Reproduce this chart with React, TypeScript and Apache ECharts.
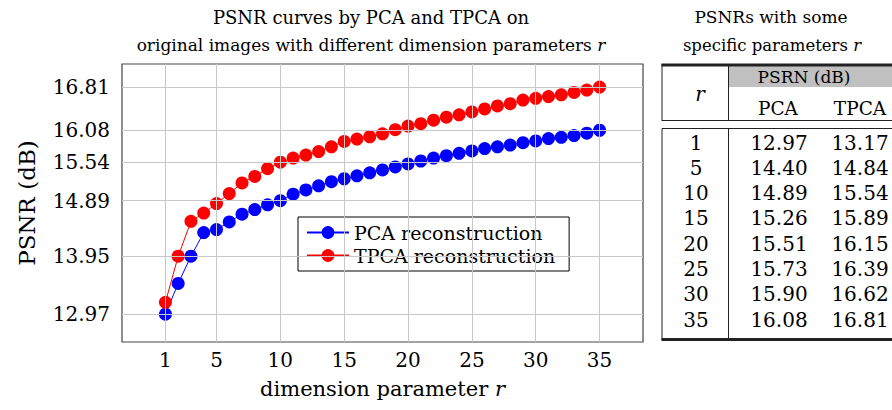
import React, { useEffect, useRef } from "react";
import * as echarts from "echarts";

const FONT = "DejaVu Serif";
const GREEN = "#2ee82e";

const rValues = [1, 2, 3, 4, 5, 6, 7, 8, 9, 10, 11, 12, 13, 14, 15, 16, 17, 18, 19, 20, 21, 22, 23, 24, 25, 26, 27, 28, 29, 30, 31, 32, 33, 34, 35];
const pcaValues = [12.97, 13.49, 13.95, 14.35, 14.40, 14.53, 14.66, 14.74, 14.82, 14.89, 15.00, 15.07, 15.14, 15.21, 15.26, 15.31, 15.36, 15.41, 15.46, 15.51, 15.56, 15.61, 15.65, 15.69, 15.73, 15.77, 15.80, 15.83, 15.87, 15.90, 15.94, 15.96, 15.99, 16.03, 16.08];
const tpcaValues = [13.17, 13.95, 14.54, 14.68, 14.84, 15.01, 15.19, 15.30, 15.43, 15.54, 15.61, 15.66, 15.72, 15.80, 15.89, 15.93, 15.97, 16.02, 16.09, 16.15, 16.19, 16.25, 16.30, 16.34, 16.39, 16.44, 16.49, 16.53, 16.59, 16.62, 16.65, 16.68, 16.72, 16.76, 16.81];
const xTicks = [1, 5, 10, 15, 20, 25, 30, 35];
const yTicks = [12.97, 13.95, 14.89, 15.54, 16.08, 16.81];
const tableR = [1, 5, 10, 15, 20, 25, 30, 35];

const X_MIN = -2.4;
const X_MAX = 38.4;
const Y_MIN = 12.5;
const Y_MAX = 17.2;

export default function App() {
  const ref = useRef<HTMLDivElement>(null);

  useEffect(() => {
    if (!ref.current) return;
    const chart = echarts.init(ref.current, null, { renderer: "svg" });

    const gridLines: any[] = [];
    xTicks.forEach((x) => gridLines.push([{ coord: [x, Y_MIN] }, { coord: [x, Y_MAX] }]));
    yTicks.forEach((y) => gridLines.push([{ coord: [X_MIN, y] }, { coord: [X_MAX, y] }]));

    const txt = (text: string, x: number, y: number, size: number, extra: any = {}) => ({
      type: "text",
      x,
      y,
      silent: true,
      style: {
        text,
        fontFamily: FONT,
        fontSize: size,
        fill: "#000",
        textAlign: "center",
        textVerticalAlign: "middle",
        ...extra,
      },
    });
    const rich = (size: number) => ({
      n: { fontFamily: FONT, fontSize: size, fill: "#000", color: "#000" },
      i: { fontFamily: FONT, fontSize: size, fontStyle: "italic", fill: "#000", color: "#000" },
    });

    const rowY0 = 142.5;
    const rowStep = 25.3;
    const tableTexts: any[] = [];
    tableR.forEach((r, k) => {
      const y = rowY0 + k * rowStep;
      tableTexts.push(txt(String(r), 696, y, 20));
      tableTexts.push(txt(pcaValues[rValues.indexOf(r)].toFixed(2), 779, y, 20));
      tableTexts.push(txt(tpcaValues[rValues.indexOf(r)].toFixed(2), 860, y, 20));
    });

    const hline = (x1: number, x2: number, y: number, w = 1) => ({
      type: "line",
      silent: true,
      shape: { x1, y1: y, x2, y2: y },
      style: { stroke: "#222", lineWidth: w },
    });
    const vline = (x: number, y1: number, y2: number, w = 1) => ({
      type: "line",
      silent: true,
      shape: { x1: x, y1, x2: x, y2 },
      style: { stroke: "#222", lineWidth: w },
    });

    const axisText = { fontFamily: FONT, fontSize: 20, color: "#000" };

    const option: any = {
      animation: false,
      textStyle: { fontFamily: FONT },
      grid: { left: 122, right: 249, top: 64, bottom: 68, show: true, borderColor: "#444", borderWidth: 1.2 },
      xAxis: [
        {
          type: "value",
          min: X_MIN,
          max: X_MAX,
          position: "bottom",
          axisLine: { show: false },
          splitLine: { show: false },
          axisTick: { show: true, inside: true, length: 10, lineStyle: { color: GREEN, width: 1 }, customValues: xTicks },
          axisLabel: { ...axisText, customValues: xTicks, margin: 8 },
          name: "{n|dimension parameter }{i|r}",
          nameLocation: "middle",
          nameGap: 36,
          nameTextStyle: { fontFamily: FONT, fontSize: 21, color: "#000", rich: rich(21) },
        },
        {
          type: "value",
          min: X_MIN,
          max: X_MAX,
          position: "top",
          axisLine: { show: false },
          splitLine: { show: false },
          axisTick: { show: true, inside: true, length: 10, lineStyle: { color: GREEN, width: 1 }, customValues: xTicks },
          axisLabel: { show: false, customValues: xTicks },
        },
      ],
      yAxis: [
        {
          type: "value",
          min: Y_MIN,
          max: Y_MAX,
          position: "left",
          axisLine: { show: false },
          splitLine: { show: false },
          axisTick: { show: true, inside: true, length: 10, lineStyle: { color: GREEN, width: 1 }, customValues: yTicks },
          axisLabel: { ...axisText, customValues: yTicks, margin: 12, formatter: (v: number) => v.toFixed(2) },
          name: "PSNR (dB)",
          nameLocation: "middle",
          nameGap: 84,
          nameRotate: 90,
          nameTextStyle: { fontFamily: FONT, fontSize: 23, color: "#000" },
        },
        {
          type: "value",
          min: Y_MIN,
          max: Y_MAX,
          position: "right",
          axisLine: { show: false },
          splitLine: { show: false },
          axisTick: { show: true, inside: true, length: 10, lineStyle: { color: GREEN, width: 1 }, customValues: yTicks },
          axisLabel: { show: false, customValues: yTicks },
        },
      ],
      legend: {
        data: ["PCA reconstruction", "TPCA reconstruction"],
        orient: "vertical",
        left: 298,
        top: 217,
        padding: [6, 14, 6, 8],
        itemGap: 4,
        itemWidth: 42,
        itemHeight: 16,
        borderColor: "#000",
        borderWidth: 1,
        backgroundColor: "#fff",
        textStyle: { fontFamily: FONT, fontSize: 19, color: "#000" },
      },
      series: [
        {
          type: "line",
          name: "gridlines",
          data: [],
          z: 1,
          silent: true,
          markLine: {
            silent: true,
            symbol: ["none", "none"],
            label: { show: false },
            lineStyle: { color: "#c8c8c8", width: 1, type: "solid" },
            emphasis: { disabled: true },
            data: gridLines,
          },
        },
        {
          type: "line",
          name: "PCA reconstruction",
          data: rValues.map((r, i) => [r, pcaValues[i]]),
          symbol: "circle",
          symbolSize: 13,
          itemStyle: { color: "#0000ff" },
          lineStyle: { color: "#0000ff", width: 1 },
          z: 3,
        },
        {
          type: "line",
          name: "TPCA reconstruction",
          data: rValues.map((r, i) => [r, tpcaValues[i]]),
          symbol: "circle",
          symbolSize: 13,
          itemStyle: { color: "#ff0000" },
          lineStyle: { color: "#ff0000", width: 1 },
          z: 4,
        },
      ],
      graphic: [
        txt("PSNR curves by PCA and TPCA on", 371, 17, 18),
        {
          type: "text",
          x: 371,
          y: 45,
          silent: true,
          style: {
            text: "{n|original images with different dimension parameters }{i|r}",
            rich: rich(17),
            fontFamily: FONT,
            fontSize: 17,
            textAlign: "center",
            textVerticalAlign: "middle",
          },
        },
        txt("PSNRs with some", 771, 17, 17),
        {
          type: "text",
          x: 772,
          y: 45,
          silent: true,
          style: {
            text: "{n|specific parameters }{i|r}",
            rich: rich(16.5),
            fontFamily: FONT,
            fontSize: 16.5,
            textAlign: "center",
            textVerticalAlign: "middle",
          },
        },
        { type: "rect", silent: true, shape: { x: 728.5, y: 66, width: 170, height: 21 }, style: { fill: "#c0c0c0" } },
        { type: "rect", silent: true, shape: { x: 661.5, y: 63.5, width: 240, height: 3 }, style: { fill: "#222" } },
        vline(662, 64, 121),
        vline(728.5, 64, 121),
        hline(662, 900, 120.5),
        hline(662, 900, 128.5),
        vline(662, 128.5, 340),
        vline(728.5, 128.5, 340),
        { type: "rect", silent: true, shape: { x: 661.5, y: 338, width: 240, height: 3 }, style: { fill: "#222" } },
        txt("r", 700, 94, 20, { fontStyle: "italic" }),
        txt("PSRN (dB)", 804, 77, 17),
        txt("PCA", 778, 108, 18.5),
        txt("TPCA", 860, 108, 18.5),
        ...tableTexts,
      ],
    };

    chart.setOption(option);
    return () => chart.dispose();
  }, []);

  return <div ref={ref} style={{ position: "absolute", left: 0, top: 0, width: 892, height: 410 }} />;
}
